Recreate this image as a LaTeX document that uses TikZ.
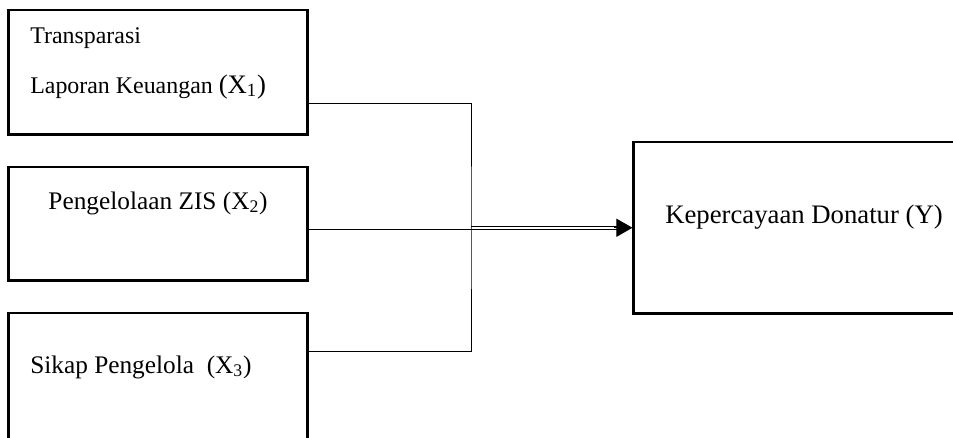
\documentclass[tikz,border=0pt]{standalone}
\usepackage{fontspec}
\setmainfont{Liberation Serif}
\usepackage{xcolor}
\usepackage{tikz}
\usetikzlibrary{calc,arrows.meta}
\definecolor{ink}{HTML}{000000}
\tikzset{
  box/.style={draw=ink, line width=2.1pt, minimum width=7.45cm, inner sep=0pt},
  conn/.style={draw=ink, line width=0.7pt},
  dconn/.style={draw=ink, line width=0.7pt, double, double distance=1.1pt},
  lbl/.style={text=ink, font=\fontsize{17}{20}\selectfont, inner sep=0pt, anchor=base west},
  mid/.style={font=\fontsize{18}{21}\selectfont},
  big/.style={font=\fontsize{19}{22}\selectfont}
}

\begin{document}
\begin{tikzpicture}[x=0.025cm, y=-0.025cm]
  \useasboundingbox (0,0) rectangle (953,437);

  % boxes
  \node[box, minimum height=3.1cm] (x1) at (158,72) {};
  \node[box, minimum height=2.825cm] (x2) at (158,223.5) {};
  \node[box, minimum height=3.675cm] (x3) at (158,386.5) {};
  \node[box, minimum width=8.65cm, minimum height=4.275cm] (y) at (807,227.5) {};

  % texts
  \node[lbl] (t1a) at (30,43) {Transparasi};
  \node[lbl] (t1b) at (30,93) {Laporan Keuangan {\fontsize{19}{22}\selectfont(X\textsubscript{1})}};
  \node[lbl, mid, anchor=base] (t2) at (158,209) {Pengelolaan ZIS (X\textsubscript{2})};
  \node[lbl, mid] (t3) at (30,373) {Sikap Pengelola \ (X\textsubscript{3})};
  \node[lbl, big] (ty) at (665,223) {Kepercayaan Donatur (Y)};

  \coordinate (j) at (471,227.75);

  % connectors
  \draw[dconn] (j) -- ($(j -| y.west)+(-14,0)$);
  \draw[conn, -{Triangle[length=11.4pt, width=12.8pt]}] ($(j -| y.west)+(-18,0)$) -- (j -| y.west);
  \draw[conn] ($(x2.east)+(0,5.5)$) -- ($(j)+(0,1.25)$);
  \draw[conn] ($(x1.east)+(0,31)$) -| (j) |- ($(x3.east)+(0,-35.5)$);
\end{tikzpicture}
\end{document}
